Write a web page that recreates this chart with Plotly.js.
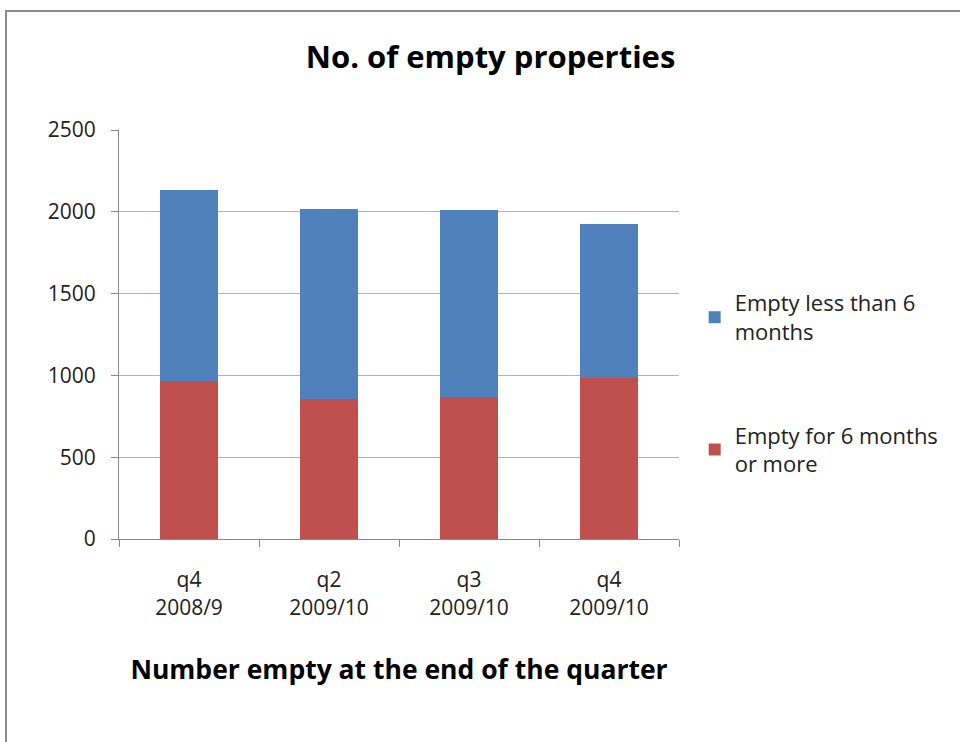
<!DOCTYPE html>
<html>
<head>
<meta charset="utf-8">
<script src="https://cdn.plot.ly/plotly-3.0.1.min.js"></script>
<style>
  html, body { margin: 0; padding: 0; background: #fff; }
  #wrap { position: relative; width: 960px; height: 742px; overflow: hidden; }
  #chart { width: 960px; height: 742px; }
  #frame { position: absolute; left: 5px; top: 10px; width: 1000px; height: 800px;
           border: 2px solid #8c8c8c; pointer-events: none; box-sizing: border-box; }
</style>
</head>
<body>
<div id="wrap">
  <div id="chart"></div>
  <div id="frame"></div>
</div>
<script>
const categories = ["q4<br>2008/9", "q2<br>2009/10", "q3<br>2009/10", "q4<br>2009/10"];
const emptySixPlus = [967, 857, 866, 984];
const emptyLessSix = [1169, 1161, 1144, 940];
const seriesNames = ["Empty for 6 months<br>or more", "Empty less than 6<br>months"];
const yTicks = [0, 500, 1000, 1500, 2000, 2500];

const FONT = "Open Sans, Liberation Sans, sans-serif";

const traces = [
  { type: "bar", x: categories, y: emptySixPlus, name: seriesNames[0], legendgroup: "a", legendrank: 2,
    marker: { color: "#C0504D" }, hoverinfo: "y" },
  { type: "bar", x: categories, y: emptyLessSix, name: seriesNames[1], legendgroup: "b", legendrank: 1,
    marker: { color: "#4F81BD" }, hoverinfo: "y" }
];

const layout = {
  width: 960, height: 742,
  margin: { l: 119, r: 281, t: 130, b: 203 },
  paper_bgcolor: "#ffffff", plot_bgcolor: "#ffffff",
  barmode: "stack",
  bargap: 0.59,
  font: { family: FONT, size: 20, color: "#222" },
  title: { text: "<b>No. of empty properties</b>", x: 0.511, xanchor: "center", y: 0.923, yanchor: "middle",
           font: { family: FONT, size: 31, color: "#000" } },
  xaxis: {
    type: "category",
    tickson: "boundaries",
    ticks: "outside", ticklen: 7, tickcolor: "#888", tickwidth: 1,
    ticklabelstandoff: 22,
    showline: true, linecolor: "#888", linewidth: 1,
    showgrid: false,
    tickfont: { family: FONT, size: 21, color: "#222" },
    title: { text: "<b>Number empty at the end of the quarter</b>", standoff: 40,
             font: { family: FONT, size: 26.5, color: "#000" } }
  },
  yaxis: {
    range: [0, 2500],
    tickvals: yTicks,
    ticks: "outside", ticklen: 7, tickcolor: "#888",
    ticklabelstandoff: 11,
    showline: true, linecolor: "#888", linewidth: 1,
    showgrid: true, gridcolor: "#b3b3b3", gridwidth: 1,
    zeroline: false,
    tickfont: { family: FONT, size: 21, color: "#222" }
  },
  legend: {
    x: 1.028, xanchor: "left", y: 0.38, yanchor: "middle",
    traceorder: "grouped", tracegroupgap: 72,
    font: { family: FONT, size: 22, color: "#222" },
    itemwidth: 30
  },
  showlegend: true
};

Plotly.newPlot("chart", traces, layout, { displayModeBar: false, staticPlot: true });
</script>
</body>
</html>
